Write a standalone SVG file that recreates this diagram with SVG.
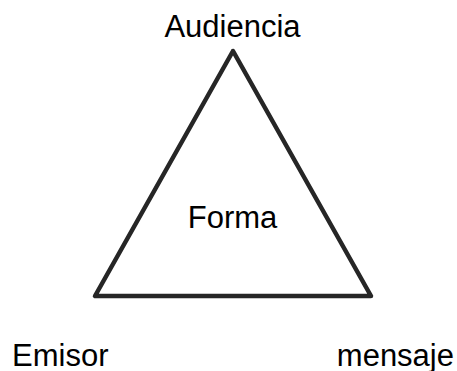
<svg xmlns="http://www.w3.org/2000/svg" width="457" height="371" viewBox="0 0 457 371">
<style>
text{font-family:"Liberation Sans",Arial,sans-serif;font-size:31px;fill:#000}
.tri{fill:none;stroke:#262626;stroke-width:4.5;stroke-linejoin:round}
</style>
<rect width="457" height="371" fill="#fff"/>
<g id="connectors">
<polygon class="tri" points="233,51 95,296 371,296"/>
</g>
<g id="node-audiencia"><text x="232.5" y="37" text-anchor="middle">Audiencia</text></g>
<g id="node-forma"><text x="232.5" y="228" text-anchor="middle">Forma</text></g>
<g id="node-emisor"><text x="12" y="366">Emisor</text></g>
<g id="node-mensaje"><text x="454" y="366" text-anchor="end">mensaje</text></g>
</svg>
